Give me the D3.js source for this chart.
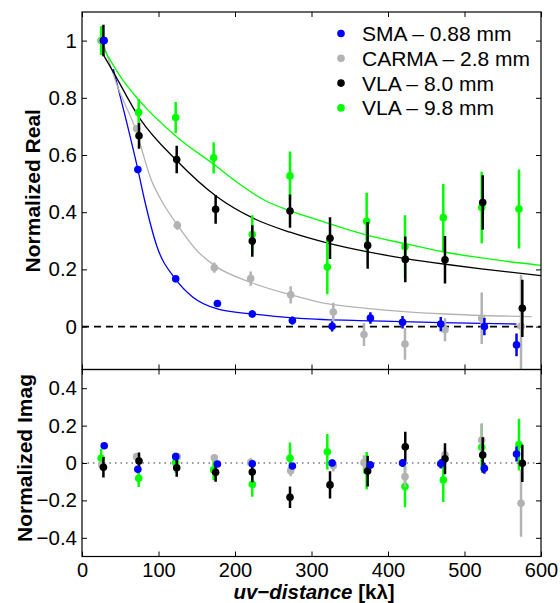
<!DOCTYPE html>
<html>
<head>
<meta charset="utf-8">
<script src="https://cdn.jsdelivr.net/npm/d3@7"></script>
<style>
  body { margin: 0; background: #fff; }
  svg { font-family: "Liberation Sans", Arial, sans-serif; }
</style>
</head>
<body>
<svg id="chart"></svg>
<script>
// tick labels
const uvTicks = [0, 100, 200, 300, 400, 500, 600];
const realTicks = [0, 0.2, 0.4, 0.6, 0.8, 1];
const imagTicks = [-0.4, -0.2, 0, 0.2, 0.4];

// series names (legend)
const seriesNames = ['SMA \u2013 0.88 mm', 'CARMA \u2013 2.8 mm', 'VLA \u2013 8.0 mm', 'VLA \u2013 9.8 mm'];
const seriesColors = ['#0000ff', '#b3b3b3', '#000000', '#00ff00'];

// binned visibilities
const smaUv   = [29, 73, 122.5, 177, 222.6, 275, 327, 377, 419, 469, 526, 568];
const smaRe   = [1.0, 0.549, 0.167, 0.081, 0.044, 0.021, 0.001, 0.030, 0.015, 0.009, 0.0, -0.064];
const smaIm   = [0.092, -0.034, 0.034, -0.005, -0.004, -0.016, 0.0, -0.011, 0.0, -0.004, -0.028, 0.048];
const smaErr  = [0.01, 0.01, 0.01, 0.01, 0.012, 0.014, 0.018, 0.02, 0.022, 0.025, 0.03, 0.04];

const carmaUv  = [26, 71.4, 124.6, 173, 220.5, 272.8, 328.5, 368.6, 422.2, 474.5, 522.5, 573.9];
const carmaRe  = [1.0, 0.692, 0.354, 0.206, 0.168, 0.111, 0.051, -0.028, -0.061, -0.011, 0.029, 0.001];
const carmaIm  = [-0.011, 0.034, 0.034, 0.028, 0.002, -0.041, -0.014, 0.002, -0.073, 0.044, 0.123, -0.215];
const carmaErr = [0.01, 0.012, 0.015, 0.018, 0.025, 0.03, 0.032, 0.04, 0.055, 0.04, 0.09, 0.18];

const vla8Uv  = [28, 74.5, 123.8, 174.7, 222.6, 271.9, 324.2, 373.4, 422.6, 474.5, 523.8, 575.6];
const vla8Re  = [1.0, 0.667, 0.584, 0.410, 0.299, 0.404, 0.309, 0.284, 0.235, 0.234, 0.434, 0.064];
const vla8Im  = [-0.023, 0.011, -0.025, -0.05, -0.048, -0.183, -0.117, -0.043, 0.087, 0.023, 0.043, -0.002];
const vla8Err = [0.055, 0.045, 0.048, 0.05, 0.055, 0.058, 0.073, 0.082, 0.08, 0.083, 0.095, 0.1];

const vla98Uv  = [25, 74.1, 122.5, 172.1, 222.6, 271.9, 320.7, 372.1, 422.2, 472.3, 522.5, 571.2];
const vla98Re  = [1.0, 0.749, 0.731, 0.590, 0.322, 0.527, 0.208, 0.368, 0.279, 0.381, 0.416, 0.411];
const vla98Im  = [0.025, -0.082, 0.002, -0.037, -0.114, 0.025, 0.06, -0.041, -0.126, -0.091, 0.084, 0.098];
const vla98Err = [0.05, 0.047, 0.054, 0.055, 0.067, 0.085, 0.095, 0.1, 0.11, 0.118, 0.125, 0.138];

// model curves
const smaFitUv   = [41, 57, 73, 82, 98, 122, 145, 177, 223, 285, 380, 470, 568];
const smaFitRe   = [0.90, 0.73, 0.55, 0.44, 0.28, 0.167, 0.103, 0.062, 0.044, 0.029, 0.02, 0.014, 0.009];
const carmaFitUv = [27, 45, 70, 91, 104, 125, 150, 173, 220, 273, 311, 372, 475, 588];
const carmaFitRe = [1.0, 0.85, 0.69, 0.51, 0.44, 0.354, 0.266, 0.214, 0.155, 0.111, 0.085, 0.064, 0.044, 0.035];
const vla8FitUv  = [28, 41, 75, 124, 176, 223, 272, 324, 372, 423, 475, 522, 600];
const vla8FitRe  = [0.95, 0.89, 0.73, 0.58, 0.455, 0.38, 0.33, 0.29, 0.262, 0.238, 0.218, 0.202, 0.178];
const vla98FitUv = [27, 50, 75, 124, 176, 200, 240, 272, 300, 372, 422, 475, 522, 600];
const vla98FitRe = [0.978, 0.875, 0.79, 0.663, 0.56, 0.51, 0.44, 0.405, 0.38, 0.32, 0.29, 0.26, 0.24, 0.214];

const W = 560, H = 603;
const left = 82, right = 541;
const reTop = 12, split = 369.5, imBottom = 556.5;

const series = [
  { uv: smaUv, re: smaRe, im: smaIm, err: smaErr, fx: smaFitUv, fy: smaFitRe },
  { uv: carmaUv, re: carmaRe, im: carmaIm, err: carmaErr, fx: carmaFitUv, fy: carmaFitRe },
  { uv: vla8Uv, re: vla8Re, im: vla8Im, err: vla8Err, fx: vla8FitUv, fy: vla8FitRe },
  { uv: vla98Uv, re: vla98Re, im: vla98Im, err: vla98Err, fx: vla98FitUv, fy: vla98FitRe }
].map((s, i) => ({ ...s, name: seriesNames[i], color: seriesColors[i] }));

const svg = d3.select('#chart').attr('width', W).attr('height', H);

const x = d3.scaleLinear().domain([0, 600]).range([left, right]);
const yRe = d3.scaleLinear().domain([-0.15, 1.1]).range([split, reTop]);
const yIm = d3.scaleLinear().domain([-0.5, 0.5]).range([imBottom, split]);
const fmt = d3.format('~g');

// clip paths for both panels
const defs = svg.append('defs');
defs.append('clipPath').attr('id', 'clipRe').append('rect')
  .attr('x', left).attr('y', reTop).attr('width', right - left).attr('height', split - reTop);
defs.append('clipPath').attr('id', 'clipIm').append('rect')
  .attr('x', left).attr('y', split).attr('width', right - left).attr('height', imBottom - split);

// reference lines at zero
svg.append('line')
  .attr('x1', left).attr('x2', right).attr('y1', yRe(0)).attr('y2', yRe(0))
  .attr('stroke', '#000').attr('stroke-width', 1.6).attr('stroke-dasharray', '7,5');
svg.append('line')
  .attr('x1', left).attr('x2', right).attr('y1', yIm(0)).attr('y2', yIm(0))
  .attr('stroke', '#777').attr('stroke-width', 1.4).attr('stroke-dasharray', '1.5,4');

// model curves
const gRe = svg.append('g').attr('clip-path', 'url(#clipRe)');
const gIm = svg.append('g').attr('clip-path', 'url(#clipIm)');
const line = d3.line().x(d => x(d[0])).y(d => yRe(d[1])).curve(d3.curveMonotoneX);
series.forEach(s => {
  gRe.append('path')
    .attr('d', line(s.fx.map((u, i) => [u, s.fy[i]])))
    .attr('fill', 'none').attr('stroke', s.color).attr('stroke-width', 1.3);
});

// points with error bars
const drawOrder = [3, 1, 2, 0];
function drawPoints(g, s, vals, y) {
  const pts = s.uv.map((u, i) => ({ u, v: vals[i], e: s.err[i] }));
  g.selectAll(null).data(pts).join('line')
    .attr('x1', d => x(d.u)).attr('x2', d => x(d.u))
    .attr('y1', d => y(d.v - d.e)).attr('y2', d => y(d.v + d.e))
    .attr('stroke', s.color).attr('stroke-width', 2.5);
  g.selectAll(null).data(pts).join('circle')
    .attr('cx', d => x(d.u)).attr('cy', d => y(d.v)).attr('r', 3.8)
    .attr('fill', s.color);
}
drawOrder.forEach(k => {
  drawPoints(gRe, series[k], series[k].re, yRe);
  drawPoints(gIm, series[k], series[k].im, yIm);
});

// axes, ticks pointing inward
function styleAxis(g) {
  g.select('.domain').remove();
  g.selectAll('.tick line').attr('stroke', '#000').attr('stroke-width', 1);
  g.selectAll('.tick text').attr('font-size', 20.5).attr('fill', '#000');
}
const tk = 5;
// real panel
svg.append('g').attr('transform', `translate(${left},0)`)
  .call(d3.axisLeft(yRe).tickValues(realTicks).tickSize(-tk).tickPadding(5).tickFormat(fmt)).call(styleAxis);
svg.append('g').attr('transform', `translate(${right},0)`)
  .call(d3.axisRight(yRe).tickValues(realTicks).tickSize(-tk).tickFormat('')).call(styleAxis);
svg.append('g').attr('transform', `translate(0,${reTop})`)
  .call(d3.axisTop(x).tickValues(uvTicks).tickSize(-tk).tickFormat('')).call(styleAxis);
svg.append('g').attr('transform', `translate(0,${split})`)
  .call(d3.axisBottom(x).tickValues(uvTicks).tickSize(-tk).tickFormat('')).call(styleAxis);
// imag panel
svg.append('g').attr('transform', `translate(${left},0)`)
  .call(d3.axisLeft(yIm).tickValues(imagTicks).tickSize(-tk).tickPadding(5).tickFormat(fmt)).call(styleAxis);
svg.append('g').attr('transform', `translate(${right},0)`)
  .call(d3.axisRight(yIm).tickValues(imagTicks).tickSize(-tk).tickFormat('')).call(styleAxis);
svg.append('g').attr('transform', `translate(0,${split})`)
  .call(d3.axisTop(x).tickValues(uvTicks).tickSize(-tk).tickFormat('')).call(styleAxis);
const xAxisG = svg.append('g').attr('transform', `translate(0,${imBottom})`)
  .call(d3.axisBottom(x).tickValues(uvTicks).tickSize(-tk).tickPadding(6).tickFormat(fmt)).call(styleAxis);
xAxisG.selectAll('.tick text').attr('font-size', 20);

// panel frames
[[reTop, split], [split, imBottom]].forEach(([t, b]) => {
  svg.append('rect').attr('x', left).attr('y', t).attr('width', right - left).attr('height', b - t)
    .attr('fill', 'none').attr('stroke', '#000').attr('stroke-width', 1.2);
});

// axis titles
svg.append('text')
  .attr('transform', `translate(32,${(reTop + split) / 2}) rotate(-90)`)
  .attr('text-anchor', 'middle').attr('dominant-baseline', 'central')
  .attr('font-size', 21).attr('font-weight', 'bold').text('Normalized Real');
svg.append('text')
  .attr('transform', `translate(24,458) rotate(-90)`)
  .attr('text-anchor', 'middle').attr('dominant-baseline', 'central')
  .attr('font-size', 21).attr('font-weight', 'bold').text('Normalized Imag');
const xt = svg.append('text')
  .attr('x', 314).attr('y', 598.8)
  .attr('text-anchor', 'middle').attr('font-size', 20.5).attr('font-weight', 'bold');
xt.append('tspan').attr('font-style', 'italic').text('uv\u2212distance');
xt.append('tspan').text(' [k\u03bb]');

// legend
const legend = svg.append('g');
series.forEach((s, i) => {
  const ly = 33.5 + i * 24.8;
  legend.append('circle').attr('cx', 341).attr('cy', ly).attr('r', 3.8).attr('fill', s.color);
  legend.append('text').attr('x', 362).attr('y', ly).attr('dominant-baseline', 'central')
    .attr('font-size', 21).text(s.name);
});
</script>
</body>
</html>
